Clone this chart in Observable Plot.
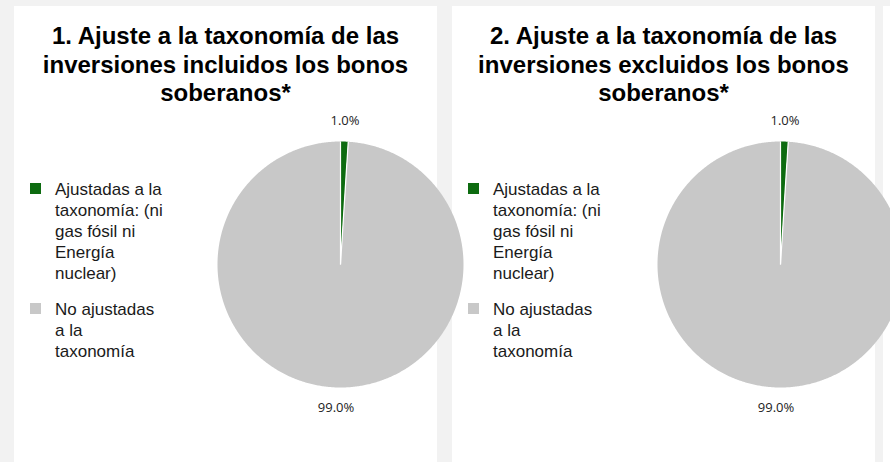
<!DOCTYPE html>
<html>
<head>
<meta charset="utf-8">
<script src="https://cdn.jsdelivr.net/npm/d3@7"></script>
<script src="https://cdn.jsdelivr.net/npm/@observablehq/plot@0.6"></script>
<style>
  html, body { margin: 0; padding: 0; }
  body { width: 890px; height: 462px; overflow: hidden; background: #f2f2f2; position: relative; font-family: "Liberation Sans", Arial, sans-serif; }
  .panel { position: absolute; top: 6px; width: 423px; height: 470px; background: #ffffff; }
  .title { position: absolute; top: 16px; left: 0; width: 423px; text-align: center; font-weight: bold; font-size: 24px; line-height: 28.5px; color: #000; white-space: pre-line; }
  .sw { position: absolute; width: 11px; height: 11px; }
  .lg { position: absolute; font-size: 17px; line-height: 21px; color: #1a1a1a; white-space: pre-line; }
  .pie { position: absolute; overflow: visible; width: 300px; height: 330px; }
  .pie svg { overflow: visible; max-width: none !important; width: 300px; height: 330px; }
  .edge { position: absolute; left: 883px; top: 6px; width: 20px; height: 470px; background: #ffffff; }
</style>
</head>
<body>
<div class="edge"></div>
<script>
// ---- data ----
const categories = [
  "Ajustadas a la\ntaxonomía: (ni\ngas fósil ni\nEnergía\nnuclear)",
  "No ajustadas\na la\ntaxonomía"
];
const colors = ["#0d6b10", "#c8c8c8"];
const titles = [
  "1. Ajuste a la taxonomía de las\ninversiones incluidos los bonos\nsoberanos*",
  "2. Ajuste a la taxonomía de las\ninversiones excluidos los bonos\nsoberanos*"
];
const valuesIncluded = [1.0, 99.0];
const valuesExcluded = [1.0, 99.0];
const seriesValues = [valuesIncluded, valuesExcluded];

// ---- layout ----
const panelLeft = [14, 452];
const pieCenterX = [340, 780];
const pieCenterY = 264;
const R = 123;
const W = 300, H = 330;
const legendTops = [178.6, 298.6];
const swatchTops = [183, 303];

function pieData(values) {
  const total = d3.sum(values);
  const slices = [], labels = [], bounds = [];
  let acc = 0;
  values.forEach((v, i) => {
    const a0 = acc / total * 2 * Math.PI;
    acc += v;
    const a1 = acc / total * 2 * Math.PI;
    const name = categories[i];
    slices.push({name, x: 0, y: 0});
    const n = Math.max(2, Math.ceil((a1 - a0) / (Math.PI / 360)));
    for (let k = 0; k <= n; k++) {
      const a = a0 + (a1 - a0) * k / n;
      slices.push({name, x: Math.sin(a), y: Math.cos(a)});
    }
    const m = (a0 + a1) / 2;
    labels.push({name, x: 1.165 * Math.sin(m), y: 1.165 * Math.cos(m), label: v.toFixed(1) + "%"});
    bounds.push({x2: Math.sin(a0), y2: Math.cos(a0)});
  });
  return {slices, labels, bounds};
}

titles.forEach((t, p) => {
  const panel = document.createElement("div");
  panel.className = "panel";
  panel.style.left = panelLeft[p] + "px";
  document.body.appendChild(panel);

  const title = document.createElement("div");
  title.className = "title";
  title.textContent = t;
  panel.appendChild(title);

  categories.forEach((c, i) => {
    const sw = document.createElement("div");
    sw.className = "sw";
    sw.style.left = (panelLeft[p] + 16) + "px";
    sw.style.top = swatchTops[i] + "px";
    sw.style.background = colors[i];
    document.body.appendChild(sw);
    const lg = document.createElement("div");
    lg.className = "lg";
    lg.style.left = (panelLeft[p] + 41) + "px";
    lg.style.top = legendTops[i] + "px";
    lg.textContent = c;
    document.body.appendChild(lg);
  });
});

seriesValues.forEach((values, p) => {
  const {slices, labels, bounds} = pieData(values);
  const chart = Plot.plot({
    width: W,
    height: H,
    margin: 0,
    x: {domain: [-W / 2 / R, W / 2 / R], axis: null},
    y: {domain: [-H / 2 / R, H / 2 / R], axis: null},
    color: {domain: categories, range: colors},
    style: {background: "transparent", overflow: "visible", maxWidth: "none"},
    marks: [
      Plot.line(slices, {x: "x", y: "y", z: "name", fill: "name", stroke: null, curve: "linear"}),
      Plot.link(bounds, {x1: () => 0, y1: () => 0, x2: "x2", y2: "y2", stroke: "white", strokeWidth: 1.2}),
      Plot.text(labels, {x: "x", y: "y", text: "label", fontSize: 13, fill: "#222", fontFamily: "'Open Sans', sans-serif"})
    ]
  });
  const wrap = document.createElement("div");
  wrap.className = "pie";
  wrap.style.left = (pieCenterX[p] - W / 2) + "px";
  wrap.style.top = (pieCenterY - H / 2) + "px";
  wrap.appendChild(chart);
  document.body.appendChild(wrap);
});
</script>
</body>
</html>
